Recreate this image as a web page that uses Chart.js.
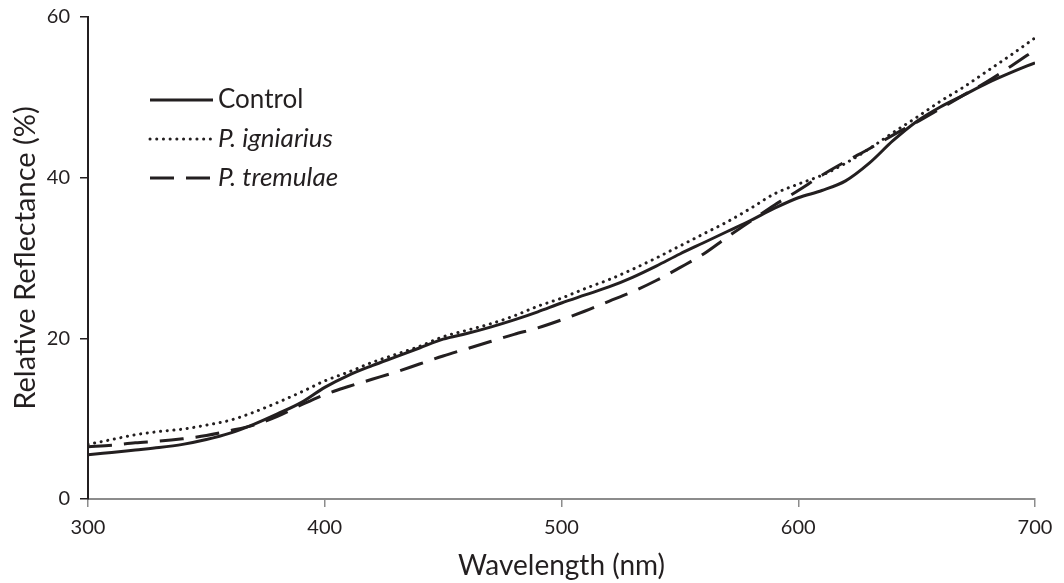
<!DOCTYPE html>
<html>
<head>
<meta charset="utf-8">
<script src="https://cdn.jsdelivr.net/npm/chart.js@4/dist/chart.umd.min.js"></script>
<style>
html,body{margin:0;padding:0;background:#fff;}
#wrap{position:relative;width:1064px;height:583px;}
</style>
</head>
<body>
<div id="wrap"><canvas id="c" width="1064" height="583"></canvas></div>
<script>
const wavelengths = [300,310,320,330,340,350,360,370,380,390,400,410,420,430,440,450,460,470,480,490,500,510,520,530,540,550,560,570,580,590,600,610,620,630,640,650,660,670,680,690,700];
const control = [5.5,5.8,6.1,6.4,6.8,7.4,8.2,9.3,10.6,12.0,13.9,15.4,16.6,17.7,18.8,19.9,20.6,21.4,22.3,23.3,24.4,25.4,26.4,27.6,29.0,30.5,31.9,33.3,34.7,36.2,37.5,38.4,39.6,41.8,44.6,47.0,48.8,50.3,51.8,53.1,54.3];
const igniarius = [6.8,7.4,8.0,8.4,8.7,9.2,9.8,10.8,12.0,13.3,14.7,15.8,17.0,18.0,19.0,20.2,21.0,21.8,22.8,24.0,25.0,26.2,27.3,28.6,30.0,31.5,33.0,34.5,36.2,38.0,39.2,40.3,41.8,43.6,45.6,47.5,49.5,51.3,53.3,55.3,57.4];
const tremulae = [6.5,6.7,7.0,7.2,7.5,7.9,8.5,9.2,10.3,11.7,13.0,14.0,14.9,15.8,16.8,17.8,18.7,19.6,20.5,21.3,22.3,23.4,24.6,25.8,27.2,28.8,30.5,32.6,34.6,36.6,38.4,40.3,42.0,43.6,45.3,46.9,48.6,50.3,52.0,53.9,55.9];
const seriesNames = ["Control","P. igniarius","P. tremulae"];
const xTicks = [300,400,500,600,700];
const yTicks = [0,20,40,60];

const FONT = "Lato";
const ink = "#231f20";
const pts = arr => wavelengths.map((w,i)=>({x:w,y:arr[i]}));

const styles = [
  {borderDash:[], borderWidth:3, borderCapStyle:'butt', italic:false},
  {borderDash:[0.1,6.6], borderWidth:3, borderCapStyle:'round', italic:true},
  {borderDash:[24,12], borderWidth:3, borderCapStyle:'butt', italic:true}
];
const dataArrs = [control, igniarius, tremulae];

const legendPlugin = {
  id:'inlineLegend',
  afterDatasetsDraw(chart){
    const ctx = chart.ctx;
    const rows = [100,139,178];
    chart.data.datasets.forEach((ds,i)=>{
      const y = rows[i];
      ctx.save();
      ctx.strokeStyle = ink;
      ctx.lineWidth = ds.borderWidth;
      ctx.lineCap = ds.borderCapStyle;
      ctx.setLineDash(ds.borderDash);
      ctx.beginPath();
      ctx.moveTo(150,y);
      ctx.lineTo(213,y);
      ctx.stroke();
      ctx.setLineDash([]);
      ctx.fillStyle = ink;
      ctx.font = (styles[i].italic?'italic ':'') + '26px ' + FONT;
      ctx.textBaseline = 'middle';
      ctx.textAlign = 'left';
      ctx.fillText(ds.label, 218, y);
      ctx.restore();
    });
  }
};

new Chart(document.getElementById('c'), {
  type:'line',
  data:{
    datasets: dataArrs.map((arr,i)=>({
      label: seriesNames[i],
      data: pts(arr),
      borderColor: ink,
      borderWidth: styles[i].borderWidth,
      borderDash: styles[i].borderDash,
      borderCapStyle: styles[i].borderCapStyle,
      pointRadius:0,
      tension:0.4,
      cubicInterpolationMode:'monotone',
      fill:false
    }))
  },
  options:{
    responsive:false,
    animation:false,
    layout:{padding:{top:17,right:29,left:0,bottom:0}},
    plugins:{legend:{display:false},tooltip:{enabled:false}},
    scales:{
      x:{
        type:'linear', min:300, max:700,
        afterBuildTicks(s){ s.ticks = xTicks.map(v=>({value:v})); },
        afterFit(s){ s.height = 84; s.paddingLeft = 0; s.paddingRight = 0; },
        border:{color:'#8c8c8c', width:2},
        grid:{drawOnChartArea:false, color:'#8c8c8c', lineWidth:1.5, tickLength:8},
        ticks:{color:ink, font:{family:FONT,size:20}, padding:9, maxRotation:0},
        title:{display:true, text:'Wavelength (nm)', color:ink, font:{family:FONT,size:28}, padding:{top:0,bottom:0}}
      },
      y:{
        min:0, max:60,
        afterBuildTicks(s){ s.ticks = yTicks.map(v=>({value:v})); },
        afterFit(s){ s.width = 88; s.paddingTop = 0; s.paddingBottom = 0; },
        border:{color:ink, width:2},
        grid:{drawOnChartArea:false, color:ink, lineWidth:1.5, tickLength:8},
        ticks:{color:ink, font:{family:FONT,size:20}, padding:10},
        title:{display:true, text:'Relative Reflectance (%)', color:ink, font:{family:FONT,size:29}, padding:{top:8,bottom:0}}
      }
    }
  },
  plugins:[legendPlugin]
});
</script>
</body>
</html>
